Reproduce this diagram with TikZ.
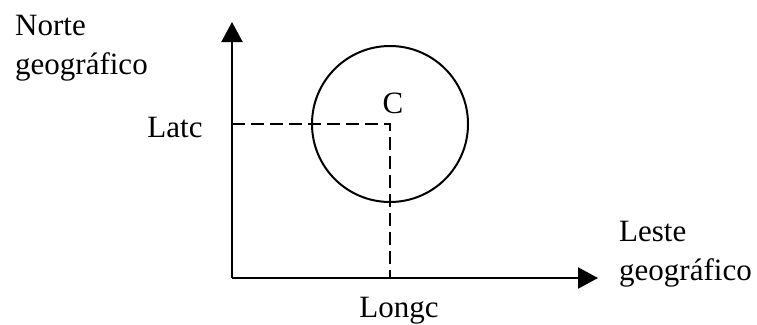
\documentclass[tikz,border=0pt]{standalone}
\usepackage{fontspec}
\setmainfont{Liberation Serif}
\usetikzlibrary{arrows.meta}
\begin{document}
\begin{tikzpicture}[x=1pt,y=-1pt,
  lbl/.style={inner sep=0pt,font=\fontsize{31}{39}\selectfont,align=left},
  axis/.style={line width=2.2pt,-{Triangle[length=20pt,width=21pt]}},
  dash line/.style={line width=2pt,dash pattern=on 13pt off 6pt}]
\useasboundingbox (0,0) rectangle (757,324);
\coordinate (O) at (232,278);
\coordinate (Ntip) at (232,22);
\coordinate (Etip) at (598,278);
\coordinate (Lat) at (232,124);
\coordinate (Lon) at (390,278);
\node[circle,draw,line width=2pt,minimum size=156pt,inner sep=0pt] (circ) at (390,124) {};
\draw[dash line] (Lat) -- (circ.center) -- (Lon);
\draw[axis] (O) -- (Ntip);
\draw[axis] (O) -- (Etip);
\node[lbl,anchor=base west] (norte) at (15,74) {Norte\\geográfico};
\node[lbl,anchor=base west] (leste) at (619,280) {Leste\\geográfico};
\node[lbl,anchor=base] (latc) at (175,137) {Latc};
\node[lbl,anchor=base] (longc) at (399,317) {Longc};
\node[lbl,anchor=base] (c) at (393,113) {C};
\end{tikzpicture}
\end{document}
